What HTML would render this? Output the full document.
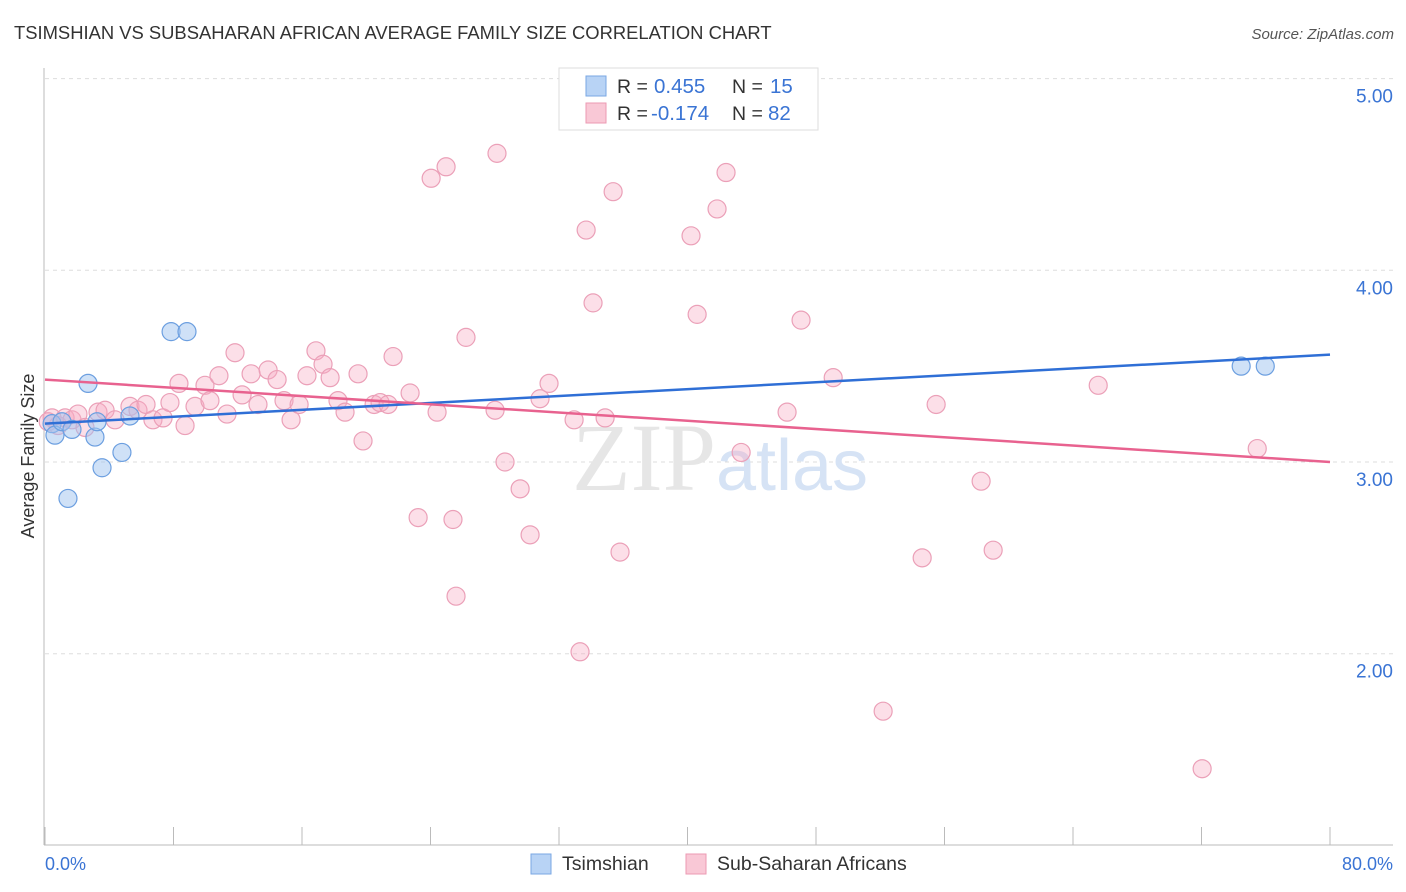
<!DOCTYPE html>
<html><head><meta charset="utf-8"><style>
body{margin:0;background:#fff;font-family:"Liberation Sans",sans-serif;}
svg{display:block}
</style></head><body>
<svg id="chart" width="1406" height="892" viewBox="0 0 1406 892">
<text x="14" y="39" font-size="18.4" fill="#333">TSIMSHIAN VS SUBSAHARAN AFRICAN AVERAGE FAMILY SIZE CORRELATION CHART</text>
<text x="1394" y="39" font-size="15" fill="#555" font-style="italic" text-anchor="end">Source: ZipAtlas.com</text>
<g id="grid"></g>
<text x="720" y="490" font-size="96" text-anchor="middle"><tspan fill="#e6e6e6" font-family="Liberation Serif,serif">ZIP</tspan><tspan fill="#d6e3f5" font-size="72">atlas</tspan></text>
<line x1="44" y1="68" x2="44" y2="845" stroke="#bbb"/>
<line x1="44" y1="845" x2="1393" y2="845" stroke="#bbb"/>
<g id="xticks"></g>
<g id="pts"></g>
<g id="trends"></g>
<text x="34" y="456" font-size="18" fill="#333" text-anchor="middle" transform="rotate(-90 34 456)">Average Family Size</text>
<text x="45" y="870" font-size="18" fill="#3a74d4">0.0%</text>
<text x="1393" y="870" font-size="18" fill="#3a74d4" text-anchor="end">80.0%</text>
<g>
<rect x="559" y="68" width="259" height="62" fill="#fff" stroke="#ddd"/>
<rect x="586" y="76" width="20" height="20" fill="#b8d3f5" stroke="#7aa7e3"/>
<rect x="586" y="103" width="20" height="20" fill="#f9c8d6" stroke="#ec9ab3"/>
<text x="617" y="93" font-size="19.5" fill="#333">R = </text><text x="654" y="93" font-size="20.5" fill="#3a74d4">0.455</text>
<text x="732" y="93" font-size="19.5" fill="#333">N = </text><text x="770" y="93" font-size="20.5" fill="#3a74d4">15</text>
<text x="617" y="120" font-size="19.5" fill="#333">R = </text><text x="651" y="120" font-size="20.5" fill="#3a74d4">-0.174</text>
<text x="732" y="120" font-size="19.5" fill="#333">N = </text><text x="768" y="120" font-size="20.5" fill="#3a74d4">82</text>
</g>
<g>
<rect x="531" y="854" width="20" height="20" fill="#b8d3f5" stroke="#7aa7e3"/>
<text x="562" y="870" font-size="19.5" fill="#333">Tsimshian</text>
<rect x="686" y="854" width="20" height="20" fill="#f9c8d6" stroke="#ec9ab3"/>
<text x="717" y="870" font-size="19.5" fill="#333">Sub-Saharan Africans</text>
</g>
</svg>
<script>
const yTicks=[2,3,4,5];
const yTickLabels=["2.00","3.00","4.00","5.00"];
const xTicks=[0,8,16,24,32,40,48,56,64,72,80];
const blueX=[0.44,0.62,1.06,1.43,1.68,2.68,3.11,3.24,3.55,4.79,5.29,7.85,8.84,74.47,75.97];
const blueY=[3.20,3.14,3.21,2.81,3.17,3.41,3.13,3.21,2.97,3.05,3.24,3.68,3.68,3.50,3.50];
const pinkX=[0.44,0.81,1.25,1.68,2.05,2.49,3.30,3.74,4.36,5.29,5.79,6.29,6.72,7.35,7.78,8.34,8.72,9.34,9.96,10.27,10.83,11.33,11.83,12.27,12.83,13.26,13.89,14.45,14.88,15.32,15.82,16.31,16.87,17.31,17.75,18.24,18.68,19.49,19.80,20.49,20.86,21.36,21.67,22.73,23.23,24.04,24.41,24.97,25.40,25.59,26.21,28.02,28.14,28.64,29.58,30.20,30.82,31.38,32.94,33.31,33.69,34.12,34.87,35.37,35.80,40.22,40.60,41.84,42.40,43.34,46.20,47.07,49.07,52.18,54.61,55.48,58.28,59.03,65.57,72.04,75.47,0.2];
const pinkY=[3.23,3.19,3.23,3.22,3.25,3.18,3.26,3.27,3.22,3.29,3.27,3.30,3.22,3.23,3.31,3.41,3.19,3.29,3.40,3.32,3.45,3.25,3.57,3.35,3.46,3.30,3.48,3.43,3.32,3.22,3.30,3.45,3.58,3.51,3.44,3.32,3.26,3.46,3.11,3.30,3.31,3.30,3.55,3.36,2.71,4.48,3.26,4.54,2.70,2.30,3.65,3.27,4.61,3.00,2.86,2.62,3.33,3.41,3.22,2.01,4.21,3.83,3.23,4.41,2.53,4.18,3.77,4.32,4.51,3.05,3.26,3.74,3.44,1.70,2.50,3.30,2.90,2.54,3.40,1.40,3.07,3.21];
const blueTrend=[3.20,3.56];
const pinkTrend=[3.43,3.00];
const sx=v=>45+v/80*1285;
const sy=v=>462-(v-3)*191.7;
const NS="http://www.w3.org/2000/svg";
function mk(tag,attrs,parent){const e=document.createElementNS(NS,tag);for(const k in attrs)e.setAttribute(k,attrs[k]);parent.appendChild(e);return e;}
const grid=document.getElementById('grid');
yTicks.forEach((t,i)=>{
 const l=mk('line',{x1:45,x2:1393,y1:sy(t),y2:sy(t),stroke:'#ddd','stroke-dasharray':'4,4'},grid);
 
 
 const tx=mk('text',{x:1393,y:sy(t)+24,'font-size':19,fill:'#3a74d4','text-anchor':'end'},grid);
 tx.textContent=yTickLabels[i];
 
 
});
const xt=document.getElementById('xticks');
xTicks.forEach(t=>{
 const l=mk('line',{x1:sx(t),x2:sx(t),y1:827,y2:845,stroke:'#bbb'},xt);
 
 
});
const pts=document.getElementById('pts');
pinkX.forEach((x,i)=>{
 const c=mk('circle',{cx:sx(x),cy:sy(pinkY[i]),r:9,fill:'rgba(246,170,195,0.38)',stroke:'#eba0b8','stroke-width':1.2},pts);
 
 
});
blueX.forEach((x,i)=>{
 const c=mk('circle',{cx:sx(x),cy:sy(blueY[i]),r:9,fill:'rgba(160,196,240,0.5)',stroke:'#6c9fe0','stroke-width':1.2},pts);
 
 
});
const tr=document.getElementById('trends');
const b=mk('line',{x1:sx(0),x2:sx(80),y1:sy(blueTrend[0]),y2:sy(blueTrend[1]),stroke:'#2f6fd6','stroke-width':2.5},tr);


const p=mk('line',{x1:sx(0),x2:sx(80),y1:sy(pinkTrend[0]),y2:sy(pinkTrend[1]),stroke:'#e8628f','stroke-width':2.5},tr);


</script>
</body></html>
